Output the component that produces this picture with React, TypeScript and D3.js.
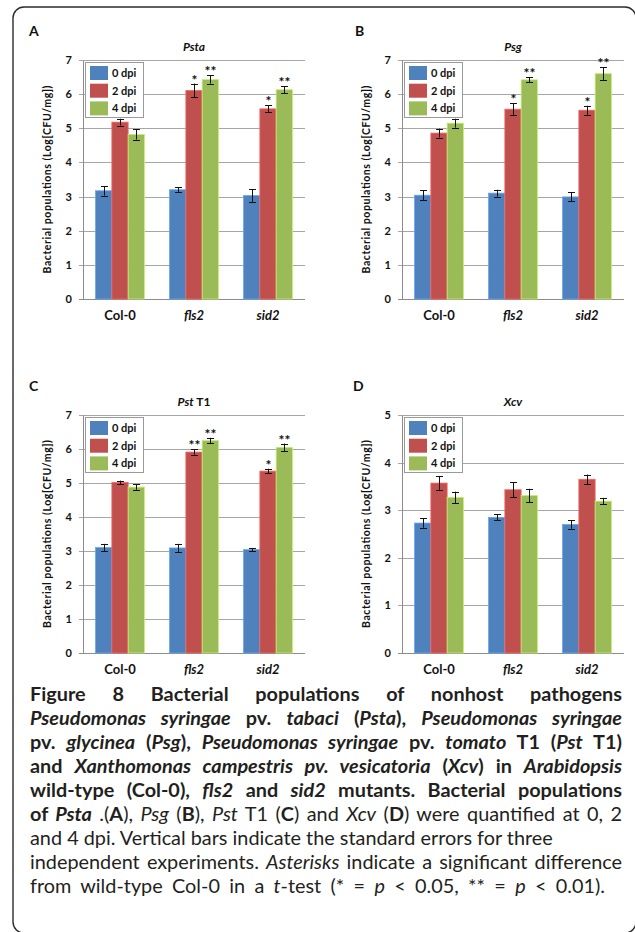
import React, { useEffect, useRef } from 'react'
import * as d3 from 'd3'

const categories = ['Col-0', 'fls2', 'sid2']
const italicCategory = [false, true, true]
const seriesNames = ['0 dpi', '2 dpi', '4 dpi']
const seriesColors = ['#4f81bd', '#c0504d', '#9bbb59']
const ticks7 = [0, 1, 2, 3, 4, 5, 6, 7]
const ticks5 = [0, 1, 2, 3, 4, 5]

// rows: Col-0, fls2, sid2 ; columns: 0, 2, 4 dpi
const pstaMean = [[3.17, 5.18, 4.82], [3.2, 6.11, 6.43], [3.03, 5.57, 6.13]]
const pstaErr = [[0.14, 0.1, 0.15], [0.07, 0.2, 0.12], [0.18, 0.1, 0.1]]
const pstaStars = [['', '', ''], ['', '*', '**'], ['', '*', '**']]

const psgMean = [[3.04, 4.86, 5.15], [3.1, 5.56, 6.42], [2.99, 5.53, 6.6]]
const psgErr = [[0.14, 0.13, 0.13], [0.1, 0.17, 0.07], [0.13, 0.13, 0.19]]
const psgStars = [['', '', ''], ['', '*', '**'], ['', '*', '**']]

const pstMean = [[3.1, 5.02, 4.88], [3.09, 5.91, 6.25], [3.04, 5.35, 6.05]]
const pstErr = [[0.11, 0.05, 0.08], [0.12, 0.08, 0.08], [0.05, 0.07, 0.11]]
const pstStars = [['', '', ''], ['', '**', '**'], ['', '*', '**']]

const xcvMean = [[2.73, 3.57, 3.27], [2.85, 3.43, 3.31], [2.7, 3.65, 3.19]]
const xcvErr = [[0.1, 0.15, 0.12], [0.06, 0.16, 0.14], [0.09, 0.1, 0.07]]
const xcvStars = [['', '', ''], ['', '', ''], ['', '', '']]

const yLabel = 'Bacterial populations (Log[CFU/mg])'

// caption: [text, style] with b = bold, i = italic, r = regular
const captionLines: [string, string][][] = [
  [['Figure 8 ', 'b'], ['Bacterial populations of nonhost pathogens', 'b']],
  [['Pseudomonas syringae', 'bi'], [' pv. ', 'b'], ['tabaci', 'bi'], [' (', 'b'], ['Psta', 'bi'], ['), ', 'b'], ['Pseudomonas syringae', 'bi']],
  [['pv. ', 'b'], ['glycinea', 'bi'], [' (', 'b'], ['Psg', 'bi'], ['), ', 'b'], ['Pseudomonas syringae', 'bi'], [' pv. ', 'b'], ['tomato', 'bi'], [' T1 (', 'b'], ['Pst', 'bi'], [' T1)', 'b']],
  [['and ', 'b'], ['Xanthomonas campestris pv. vesicatoria', 'bi'], [' (', 'b'], ['Xcv', 'bi'], [') in ', 'b'], ['Arabidopsis', 'bi']],
  [['wild-type (Col-0), ', 'b'], ['fls2', 'bi'], [' and ', 'b'], ['sid2', 'bi'], [' mutants. Bacterial populations', 'b']],
  [['of ', 'b'], ['Psta', 'bi'], [' .(', 'r'], ['A', 'b'], ['), ', 'r'], ['Psg', 'i'], [' (', 'r'], ['B', 'b'], ['), ', 'r'], ['Pst', 'i'], [' T1 (', 'r'], ['C', 'b'], [') and ', 'r'], ['Xcv', 'i'], [' (', 'r'], ['D', 'b'], [') were quantified at 0, 2', 'r']],
  [['and 4 dpi. Vertical bars indicate the standard errors for three', 'r']],
  [['independent experiments. ', 'r'], ['Asterisks', 'i'], [' indicate a significant difference', 'r']],
  [['from wild-type Col-0 in a ', 'r'], ['t', 'i'], ['-test (* = ', 'r'], ['p', 'i'], [' < 0.05, ** = ', 'r'], ['p', 'i'], [' < 0.01).', 'r']],
]
// line end (x) in the original; null = natural width
const lineEnds = [622, 622, 622, 622, 622, 622, null, 622, 605]

const panels = [
  { letter: 'A', title: [['Psta', true]], mean: pstaMean, err: pstaErr, stars: pstaStars, ticks: ticks7, left: 83, right: 305, top: 60, bottom: 299, letterX: 29 },
  { letter: 'B', title: [['Psg', true]], mean: psgMean, err: psgErr, stars: psgStars, ticks: ticks7, left: 402, right: 624, top: 60, bottom: 299, letterX: 355 },
  { letter: 'C', title: [['Pst', true], [' T1', false]], mean: pstMean, err: pstErr, stars: pstStars, ticks: ticks7, left: 83, right: 305, top: 415, bottom: 653, letterX: 29 },
  { letter: 'D', title: [['Xcv', true]], mean: xcvMean, err: xcvErr, stars: xcvStars, ticks: ticks5, left: 402, right: 624, top: 415, bottom: 653, letterX: 353 },
]

const chartFont = 'Lato, "Open Sans", sans-serif'

function drawPanel(svg, p) {
  const yMax = p.ticks[p.ticks.length - 1]
  const y = d3.scaleLinear().domain([0, yMax]).range([p.bottom, p.top])
  const x = d3.scaleBand().domain(categories).range([p.left, p.right]).paddingInner(0.34).paddingOuter(0.17)
  const xs = d3.scaleBand().domain(seriesNames).range([0, x.bandwidth()])
  const g = svg.append('g').attr('font-family', chartFont).attr('font-weight', 700).attr('fill', '#111')
  const py = (v) => Math.round(y(v)) + 0.5

  // grid + ticks
  g.selectAll('line.grid').data(p.ticks).join('line')
    .attr('x1', p.left - 4).attr('x2', p.right)
    .attr('y1', py).attr('y2', py)
    .attr('stroke', (d) => (d === 0 ? '#8c8c8c' : '#a6a6a6')).attr('stroke-width', 1)
  g.append('line').attr('x1', p.left + 0.5).attr('x2', p.left + 0.5)
    .attr('y1', py(yMax)).attr('y2', py(0)).attr('stroke', '#8c8c8c')
  g.selectAll('text.tick').data(p.ticks).join('text')
    .attr('x', p.left - 11).attr('y', (d) => y(d) + 4)
    .attr('text-anchor', 'end').attr('font-size', 11).text((d) => d)

  // bars
  const rows = p.mean.flatMap((r, i) => r.map((v, j) => ({ cat: categories[i], s: seriesNames[j], j, v, e: p.err[i][j], star: p.stars[i][j] })))
  g.selectAll('rect.bar').data(rows).join('rect')
    .attr('x', (d) => x(d.cat) + xs(d.s)).attr('width', xs.bandwidth())
    .attr('y', (d) => y(d.v)).attr('height', (d) => y(0) - y(d.v))
    .attr('fill', (d) => seriesColors[d.j])
    .attr('stroke', (d) => d3.color(seriesColors[d.j]).brighter(0.7).formatHex()).attr('stroke-width', 0.8)

  // error bars
  const cx = (d) => Math.round(x(d.cat) + xs(d.s) + xs.bandwidth() / 2) + 0.5
  const eg = g.append('g').attr('stroke', '#111').attr('stroke-width', 1)
  eg.selectAll('line.v').data(rows).join('line')
    .attr('x1', cx).attr('x2', cx).attr('y1', (d) => y(d.v + d.e)).attr('y2', (d) => y(d.v - d.e))
  eg.selectAll('line.t').data(rows).join('line')
    .attr('x1', (d) => cx(d) - 3.5).attr('x2', (d) => cx(d) + 3.5).attr('y1', (d) => py(d.v + d.e)).attr('y2', (d) => py(d.v + d.e))
  eg.selectAll('line.b').data(rows).join('line')
    .attr('x1', (d) => cx(d) - 3.5).attr('x2', (d) => cx(d) + 3.5).attr('y1', (d) => py(d.v - d.e)).attr('y2', (d) => py(d.v - d.e))

  // significance stars
  g.selectAll('text.star').data(rows.filter((d) => d.star)).join('text')
    .attr('x', cx).attr('y', (d) => y(d.v + d.e) + 1)
    .attr('text-anchor', 'middle').attr('font-size', 14).text((d) => d.star)

  // category labels
  g.selectAll('text.cat').data(categories).join('text')
    .attr('x', (d) => x(d) + x.bandwidth() / 2).attr('y', p.bottom + 21)
    .attr('text-anchor', 'middle').attr('font-size', 13)
    .attr('font-style', (d, i) => (italicCategory[i] ? 'italic' : 'normal')).text((d) => d)

  // title, panel letter, y label
  const t = g.append('text').attr('x', (p.left + p.right) / 2).attr('y', p.top - 9)
    .attr('text-anchor', 'middle').attr('font-size', 12)
  p.title.forEach(([s, it]) => t.append('tspan').attr('font-style', it ? 'italic' : 'normal').text(s))
  t.style('white-space', 'pre')
  g.append('text').attr('x', p.letterX).attr('y', p.top - 24).attr('font-size', 14).text(p.letter)
  g.append('text').attr('transform', `translate(${p.left - 32},${(p.top + p.bottom) / 2}) rotate(-90)`)
    .attr('text-anchor', 'middle').attr('font-size', 10.5)
    .attr('textLength', 188).attr('lengthAdjust', 'spacing').text(yLabel)

  // legend
  const lg = g.append('g').attr('transform', `translate(${p.left + 2},${p.top + 2})`)
  lg.append('rect').attr('x', 0.5).attr('y', 0.5).attr('width', 58).attr('height', 55)
    .attr('fill', '#fff').attr('stroke', '#9a9a9a')
  seriesNames.forEach((s, i) => {
    lg.append('rect').attr('x', 5).attr('y', 4 + i * 17.7).attr('width', 18).attr('height', 14).attr('fill', seriesColors[i])
    lg.append('text').attr('x', 27).attr('y', 15 + i * 17.7).attr('font-size', 11).text(s)
  })
}

function drawCaption(svg) {
  const capG = svg.append('g').attr('font-family', chartFont).attr('fill', '#231f20')
  const makeLine = (segs, i, fs) => {
    const t = capG.append('text').attr('x', 30).attr('y', 701 + i * 24).attr('font-size', fs).style('white-space', 'pre')
    segs.forEach(([s, st]) => t.append('tspan').text(s)
      .attr('font-weight', st.includes('b') ? 700 : 400)
      .attr('font-style', st.includes('i') ? 'italic' : 'normal'))
    return t
  }
  // size the caption font so the ragged line 7 spans the same width as the original
  const probe = makeLine(captionLines[6], 6, 18)
  const w7 = probe.node().getComputedTextLength()
  probe.remove()
  const fs = (18 * 523) / w7
  captionLines.forEach((segs, i) => {
    const t = makeLine(segs, i, fs)
    const end = lineEnds[i]
    if (end) {
      const w = t.node().getComputedTextLength()
      const spaces = segs.map((s) => s[0]).join('').split(' ').length - 1
      t.attr('word-spacing', (end - 30 - w) / spaces)
    }
  })
}

export default function App() {
  const ref = useRef<SVGSVGElement>(null)
  useEffect(() => {
    const svg = d3.select(ref.current)
    svg.selectAll('*').remove()
    svg.append('rect').attr('x', 13).attr('y', 7).attr('width', 623).attr('height', 926).attr('rx', 11)
      .attr('fill', 'none').attr('stroke', '#2b2b2b').attr('stroke-width', 1.4)
    panels.forEach((p) => drawPanel(svg, p))
    drawCaption(svg)
  }, [])
  return <svg ref={ref} width={635} height={932} style={{ position: 'absolute', left: 0, top: 0, background: '#fff' }} />
}
